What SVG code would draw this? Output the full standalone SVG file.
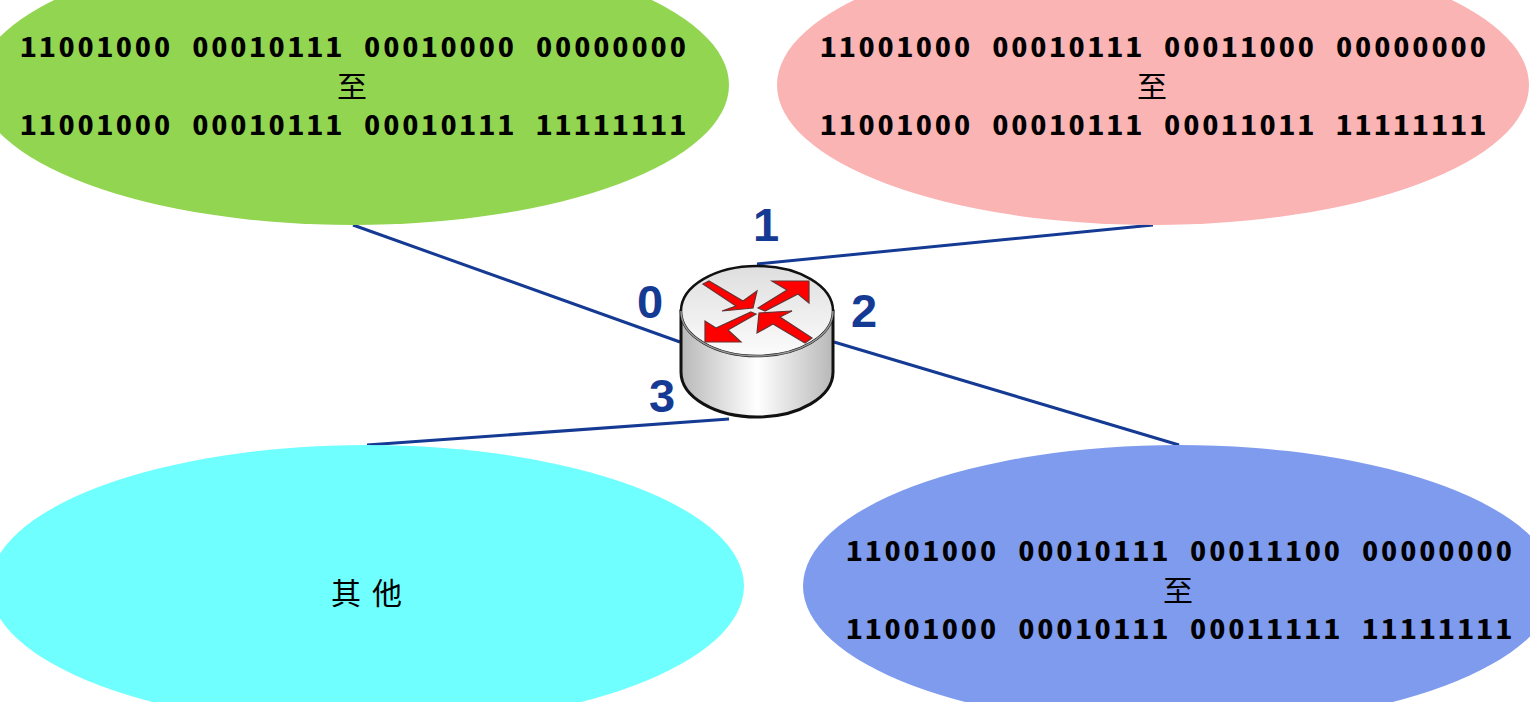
<svg xmlns="http://www.w3.org/2000/svg" width="1530" height="702" viewBox="0 0 1530 702">
<style>
.t{font-family:"Noto Sans Mono CJK SC","Noto Sans CJK SC","DejaVu Sans Mono",monospace;font-weight:700;font-size:28px;letter-spacing:2.47px;fill:#000;text-anchor:middle}
.c{font-family:"Noto Sans CJK SC","DejaVu Sans",sans-serif;font-weight:400;font-size:30px;fill:#000;text-anchor:middle}
.n{font-family:"Liberation Sans",Arial,sans-serif;font-weight:700;font-size:47px;fill:#153a94;text-anchor:middle}
.l{stroke:#153a94;stroke-width:3;fill:none}
.a{fill:#f00;stroke:#6a3030;stroke-width:1.2}
</style>
<defs>
<linearGradient id="side" x1="0" x2="1" y1="0" y2="0"><stop offset="0" stop-color="#b8b8b8"/><stop offset="0.5" stop-color="#fff"/><stop offset="1" stop-color="#b8b8b8"/></linearGradient>
<linearGradient id="top" x1="0" x2="0" y1="0" y2="1"><stop offset="0" stop-color="#dedede"/><stop offset="1" stop-color="#fcfcfc"/></linearGradient>
</defs>
<g id="connectors">
<path class="l" d="M353 225L680 342"/>
<path class="l" d="M757 264L1153 225"/>
<path class="l" d="M834 342L1179 445"/>
<path class="l" d="M367 445L729 419"/>
</g>
<g id="node-green"><ellipse cx="353" cy="85" rx="376" ry="140" fill="#92d550"/>
<text class="t" transform="translate(354.5 57) scale(1.16 1)">11001000 00010111 00010000 00000000</text><text class="c" x="352" y="97">至</text><text class="t" transform="translate(354.5 134.5) scale(1.16 1)">11001000 00010111 00010111 11111111</text></g>
<g id="node-pink"><ellipse cx="1153" cy="85" rx="376" ry="140" fill="#fab4b4"/>
<text class="t" transform="translate(1154.5 57) scale(1.16 1)">11001000 00010111 00011000 00000000</text><text class="c" x="1152" y="97">至</text><text class="t" transform="translate(1154.5 134.5) scale(1.16 1)">11001000 00010111 00011011 11111111</text></g>
<g id="node-cyan"><ellipse cx="367" cy="586" rx="377" ry="141" fill="#6fffff"/>
<text class="c" x="372" y="604" style="letter-spacing:11px">其他</text></g>
<g id="node-blue"><ellipse cx="1179" cy="586" rx="376" ry="141" fill="#7f9bee"/>
<text class="t" transform="translate(1180.5 561) scale(1.16 1)">11001000 00010111 00011100 00000000</text><text class="c" x="1178" y="601">至</text><text class="t" transform="translate(1180.5 638.5) scale(1.16 1)">11001000 00010111 00011111 11111111</text></g>
<g id="router">
<path d="M681 311V372C681 397 715 417 757 417S833 397 833 372V311Z" fill="url(#side)" stroke="#111" stroke-width="3"/>
<ellipse cx="757" cy="311" rx="76" ry="45" fill="url(#top)" stroke="#111" stroke-width="2.5"/>
<path d="M681 311C681 336 715 356 757 356S833 336 833 311" fill="none" stroke="#999" stroke-width="1.5"/>
<polygon class="a" points="703,284 709,281 743,301 757,291 753,308 722,311 736,306"/>
<polygon class="a" points="758,308 787,290 772,281 809,281 809,303 798,294 765,311"/>
<polygon class="a" points="751,312 756,314 728,330 741,342 705,342 705,321 716,328"/>
<polygon class="a" points="812,338 805,343 773,324 757,333 759,313 792,311 780,317"/>
</g>
<g id="labels">
<text class="n" x="650" y="318">0</text>
<text class="n" x="766" y="241">1</text>
<text class="n" x="864" y="327">2</text>
<text class="n" x="662" y="412">3</text>
</g>
</svg>
